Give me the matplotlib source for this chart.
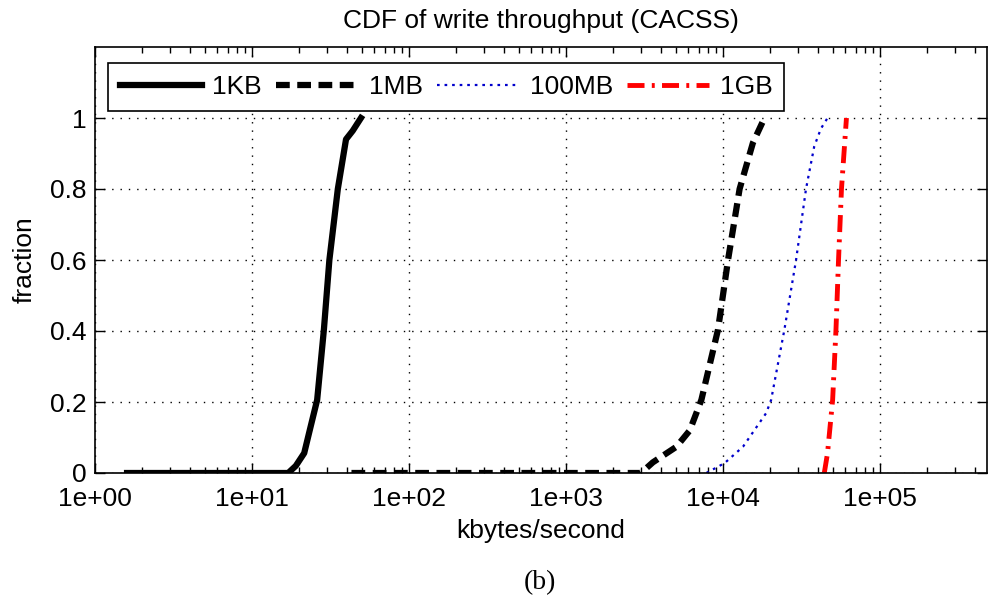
import matplotlib
matplotlib.use("Agg")
import matplotlib.pyplot as plt
from matplotlib.ticker import LogLocator, NullFormatter

plt.rcParams['font.family'] = ['Liberation Sans', 'DejaVu Sans']

# Data (kbytes/second, cumulative fraction)
kb1_x = [1.6, 17, 19, 21.5, 23.1, 26, 28.7, 31.1, 35.2, 39.7, 43.8, 49.4]
kb1_y = [0.0, 0.0, 0.02, 0.056, 0.113, 0.206, 0.404, 0.6, 0.8, 0.94, 0.964, 1.0]

mb1_x = [43, 3000, 3573, 5050, 6140, 7280, 9290, 10760, 12750, 15500, 18360]
mb1_y = [0.0, 0.0, 0.03, 0.074, 0.12, 0.206, 0.404, 0.6, 0.8, 0.93, 1.0]

mb100_x = [7830, 10240, 13400, 18840, 20250, 24600, 29180, 33760, 38100, 42000, 46300]
mb100_y = [0.0, 0.028, 0.074, 0.169, 0.206, 0.404, 0.6, 0.8, 0.92, 0.97, 1.0]

gb1_x = [44150, 46300, 49900, 52400, 54400, 56800, 61100]
gb1_y = [0.0, 0.056, 0.206, 0.404, 0.6, 0.8, 1.0]

labels = ['1KB', '1MB', '100MB', '1GB']
x_ticks = [1, 10, 100, 1000, 10000, 100000]
x_ticklabels = ['1e+00', '1e+01', '1e+02', '1e+03', '1e+04', '1e+05']
y_ticks = [0, 0.2, 0.4, 0.6, 0.8, 1]
y_ticklabels = ['0', '0.2', '0.4', '0.6', '0.8', '1']

FS = 19

fig = plt.figure(figsize=(9.89, 6.06), dpi=100)
ax = fig.add_axes([95/989, 1-473/606, (987-95)/989, (473-47)/606])

ax.plot(kb1_x, kb1_y, color='black', lw=4.5, ls='-', label=labels[0])
ax.plot(mb1_x, mb1_y, color='black', lw=4.5, ls=(0, (2.2, 1.2)), label=labels[1])
ax.plot(mb100_x, mb100_y, color='#0000cc', lw=1.6, ls=(0, (1.2, 2.2)), label=labels[2])
ax.plot(gb1_x, gb1_y, color='red', lw=3.5, ls=(0, (3.5, 1.5, 0.6, 1.5)), label=labels[3])

ax.set_xscale('log')
ax.set_xlim(1, 4.8e5)
ax.set_ylim(0, 1.2)
ax.set_xticks(x_ticks)
ax.set_xticklabels(x_ticklabels)
ax.xaxis.set_minor_locator(LogLocator(base=10, subs=range(2, 10), numticks=20))
ax.xaxis.set_minor_formatter(NullFormatter())
ax.set_yticks(y_ticks)
ax.set_yticklabels(y_ticklabels)

ax.tick_params(axis='both', which='major', direction='in', length=7, width=1,
               top=True, right=True, labelsize=FS)
ax.tick_params(axis='x', which='major', pad=10)
ax.tick_params(axis='y', which='major', pad=6)
ax.tick_params(axis='both', which='minor', direction='in', length=4, width=1,
               top=True, right=True)
for s in ax.spines.values():
    s.set_linewidth(1.2)

ax.grid(True, which='major', color='black', ls=(0, (1, 5)), lw=1)

ax.set_title('CDF of write throughput (CACSS)', fontsize=FS, pad=14)
ax.set_xlabel('kbytes/second', fontsize=FS, labelpad=6)
ax.set_ylabel('fraction', fontsize=FS, labelpad=10)

leg = ax.legend(loc='upper left', bbox_to_anchor=(0.0145, 0.962), ncol=4,
                fontsize=FS, frameon=True, fancybox=False, borderaxespad=0,
                handlelength=3.1, columnspacing=0.55, handletextpad=0.4,
                borderpad=0.45)
leg.get_frame().set_edgecolor('black')
leg.get_frame().set_linewidth(1.2)
leg.get_frame().set_alpha(1)

fig.text(540/989, 1-583/606, '(b)', fontsize=20, family='Liberation Serif',
         ha='center', va='center')

fig.savefig('out.png', dpi=100)
